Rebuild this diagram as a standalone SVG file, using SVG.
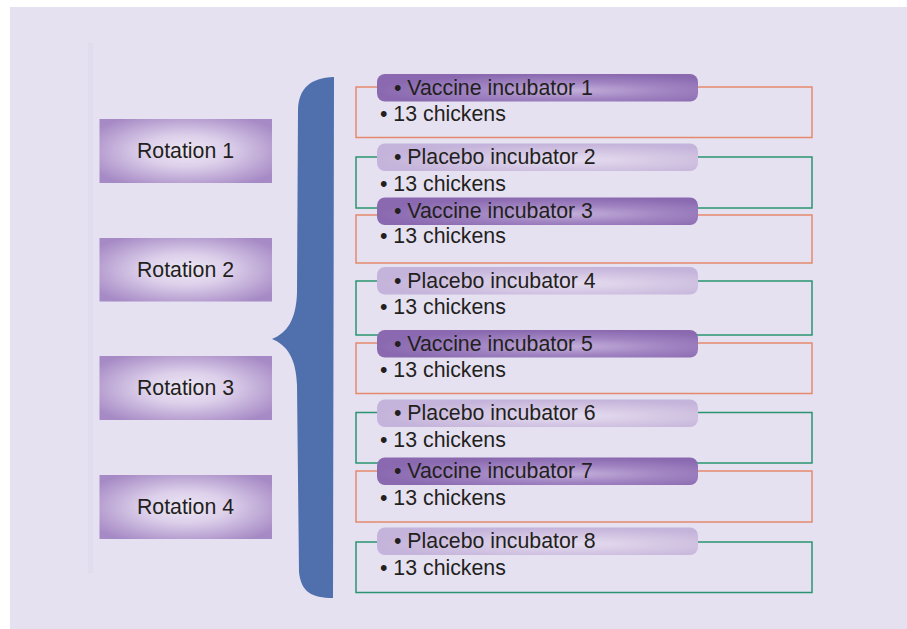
<svg xmlns="http://www.w3.org/2000/svg" width="907" height="629" viewBox="0 0 907 629">
  <defs>
    <radialGradient id="rotFill" cx="0.5" cy="0.5" r="0.62">
      <stop offset="0" stop-color="#eee8f5"/>
      <stop offset="0.4" stop-color="#dccfea"/>
      <stop offset="1" stop-color="#a68ac5"/>
    </radialGradient>
    <radialGradient id="vacFill" cx="0.6" cy="0.6" r="0.6">
      <stop offset="0" stop-color="#c3afda"/>
      <stop offset="0.5" stop-color="#a184c2"/>
      <stop offset="1" stop-color="#8a69b0"/>
    </radialGradient>
    <radialGradient id="plaFill" cx="0.6" cy="0.6" r="0.6">
      <stop offset="0" stop-color="#e6def0"/>
      <stop offset="0.55" stop-color="#d3c5e3"/>
      <stop offset="1" stop-color="#c4b3da"/>
    </radialGradient>
    <style>
      .label { font-family: "Liberation Sans", Arial, sans-serif; font-size: 21.3px; fill: #231f20; }
      .rot { fill: url(#rotFill); }
      .vac { fill: url(#vacFill); }
      .pla { fill: url(#plaFill); }
      .boxV { fill: none; stroke: #e5896d; stroke-width: 1.5; }
      .boxP { fill: none; stroke: #2a9570; stroke-width: 1.5; }
    </style>
  </defs>

  <!-- page -->
  <rect x="0" y="0" width="907" height="629" fill="#ffffff"/>
  <rect x="10" y="7" width="897" height="622" fill="#e5e1f1"/>
  <rect x="88" y="43" width="5" height="530" fill="#dedaea" opacity="0.45"/>

  <!-- rotations -->
  <g id="rotation1">
    <rect class="rot" x="99.5" y="119" width="172.5" height="64"/>
    <text class="label" x="185.5" y="158" text-anchor="middle">Rotation 1</text>
  </g>
  <g id="rotation2">
    <rect class="rot" x="99.5" y="238" width="172.5" height="63.5"/>
    <text class="label" x="185.5" y="277" text-anchor="middle">Rotation 2</text>
  </g>
  <g id="rotation3">
    <rect class="rot" x="99.5" y="356" width="172.5" height="64"/>
    <text class="label" x="185.5" y="395" text-anchor="middle">Rotation 3</text>
  </g>
  <g id="rotation4">
    <rect class="rot" x="99.5" y="475" width="172.5" height="64"/>
    <text class="label" x="185.5" y="514" text-anchor="middle">Rotation 4</text>
  </g>

  <!-- brace -->
  <g id="connectors">
    <path fill="#4f6fad" d="M 334 77 L 333 598 C 312 598 301 592 299 572 L 297 385 C 296 358 287 345 272 339 C 287 333 296 320 297 293 L 298 110 C 299 88 310 78 334 77 Z"/>
  </g>

  <!-- incubators -->
  <g id="incubator1">
    <rect class="boxV" x="356" y="87" width="456" height="50.5"/>
    <rect class="vac" x="377" y="74" width="321" height="27.5" rx="8"/>
    <text class="label" x="394" y="94.5">• Vaccine incubator 1</text>
    <text class="label" x="380" y="120.5">• 13 chickens</text>
  </g>
  <g id="incubator2">
    <rect class="boxP" x="356" y="157" width="456" height="51"/>
    <rect class="pla" x="377" y="143.5" width="321" height="27.5" rx="8"/>
    <text class="label" x="394" y="164">• Placebo incubator 2</text>
    <text class="label" x="380" y="190.5">• 13 chickens</text>
  </g>
  <g id="incubator3">
    <rect class="boxV" x="356" y="215" width="456" height="48"/>
    <rect class="vac" x="377" y="197.5" width="321" height="27.5" rx="8"/>
    <text class="label" x="394" y="218">• Vaccine incubator 3</text>
    <text class="label" x="380" y="243">• 13 chickens</text>
  </g>
  <g id="incubator4">
    <rect class="boxP" x="356" y="281" width="456" height="54"/>
    <rect class="pla" x="377" y="267" width="321" height="27.5" rx="8"/>
    <text class="label" x="394" y="287.5">• Placebo incubator 4</text>
    <text class="label" x="380" y="314">• 13 chickens</text>
  </g>
  <g id="incubator5">
    <rect class="boxV" x="356" y="343" width="456" height="50.5"/>
    <rect class="vac" x="377" y="330" width="321" height="27.5" rx="8"/>
    <text class="label" x="394" y="350.5">• Vaccine incubator 5</text>
    <text class="label" x="380" y="376.5">• 13 chickens</text>
  </g>
  <g id="incubator6">
    <rect class="boxP" x="356" y="412.5" width="456" height="50.5"/>
    <rect class="pla" x="377" y="399.5" width="321" height="27.5" rx="8"/>
    <text class="label" x="394" y="420">• Placebo incubator 6</text>
    <text class="label" x="380" y="446.5">• 13 chickens</text>
  </g>
  <g id="incubator7">
    <rect class="boxV" x="356" y="471" width="456" height="51"/>
    <rect class="vac" x="377" y="457.5" width="321" height="27.5" rx="8"/>
    <text class="label" x="394" y="478">• Vaccine incubator 7</text>
    <text class="label" x="380" y="504.5">• 13 chickens</text>
  </g>
  <g id="incubator8">
    <rect class="boxP" x="356" y="542" width="456" height="50.5"/>
    <rect class="pla" x="377" y="527.5" width="321" height="27.5" rx="8"/>
    <text class="label" x="394" y="548">• Placebo incubator 8</text>
    <text class="label" x="380" y="575">• 13 chickens</text>
  </g>
</svg>
